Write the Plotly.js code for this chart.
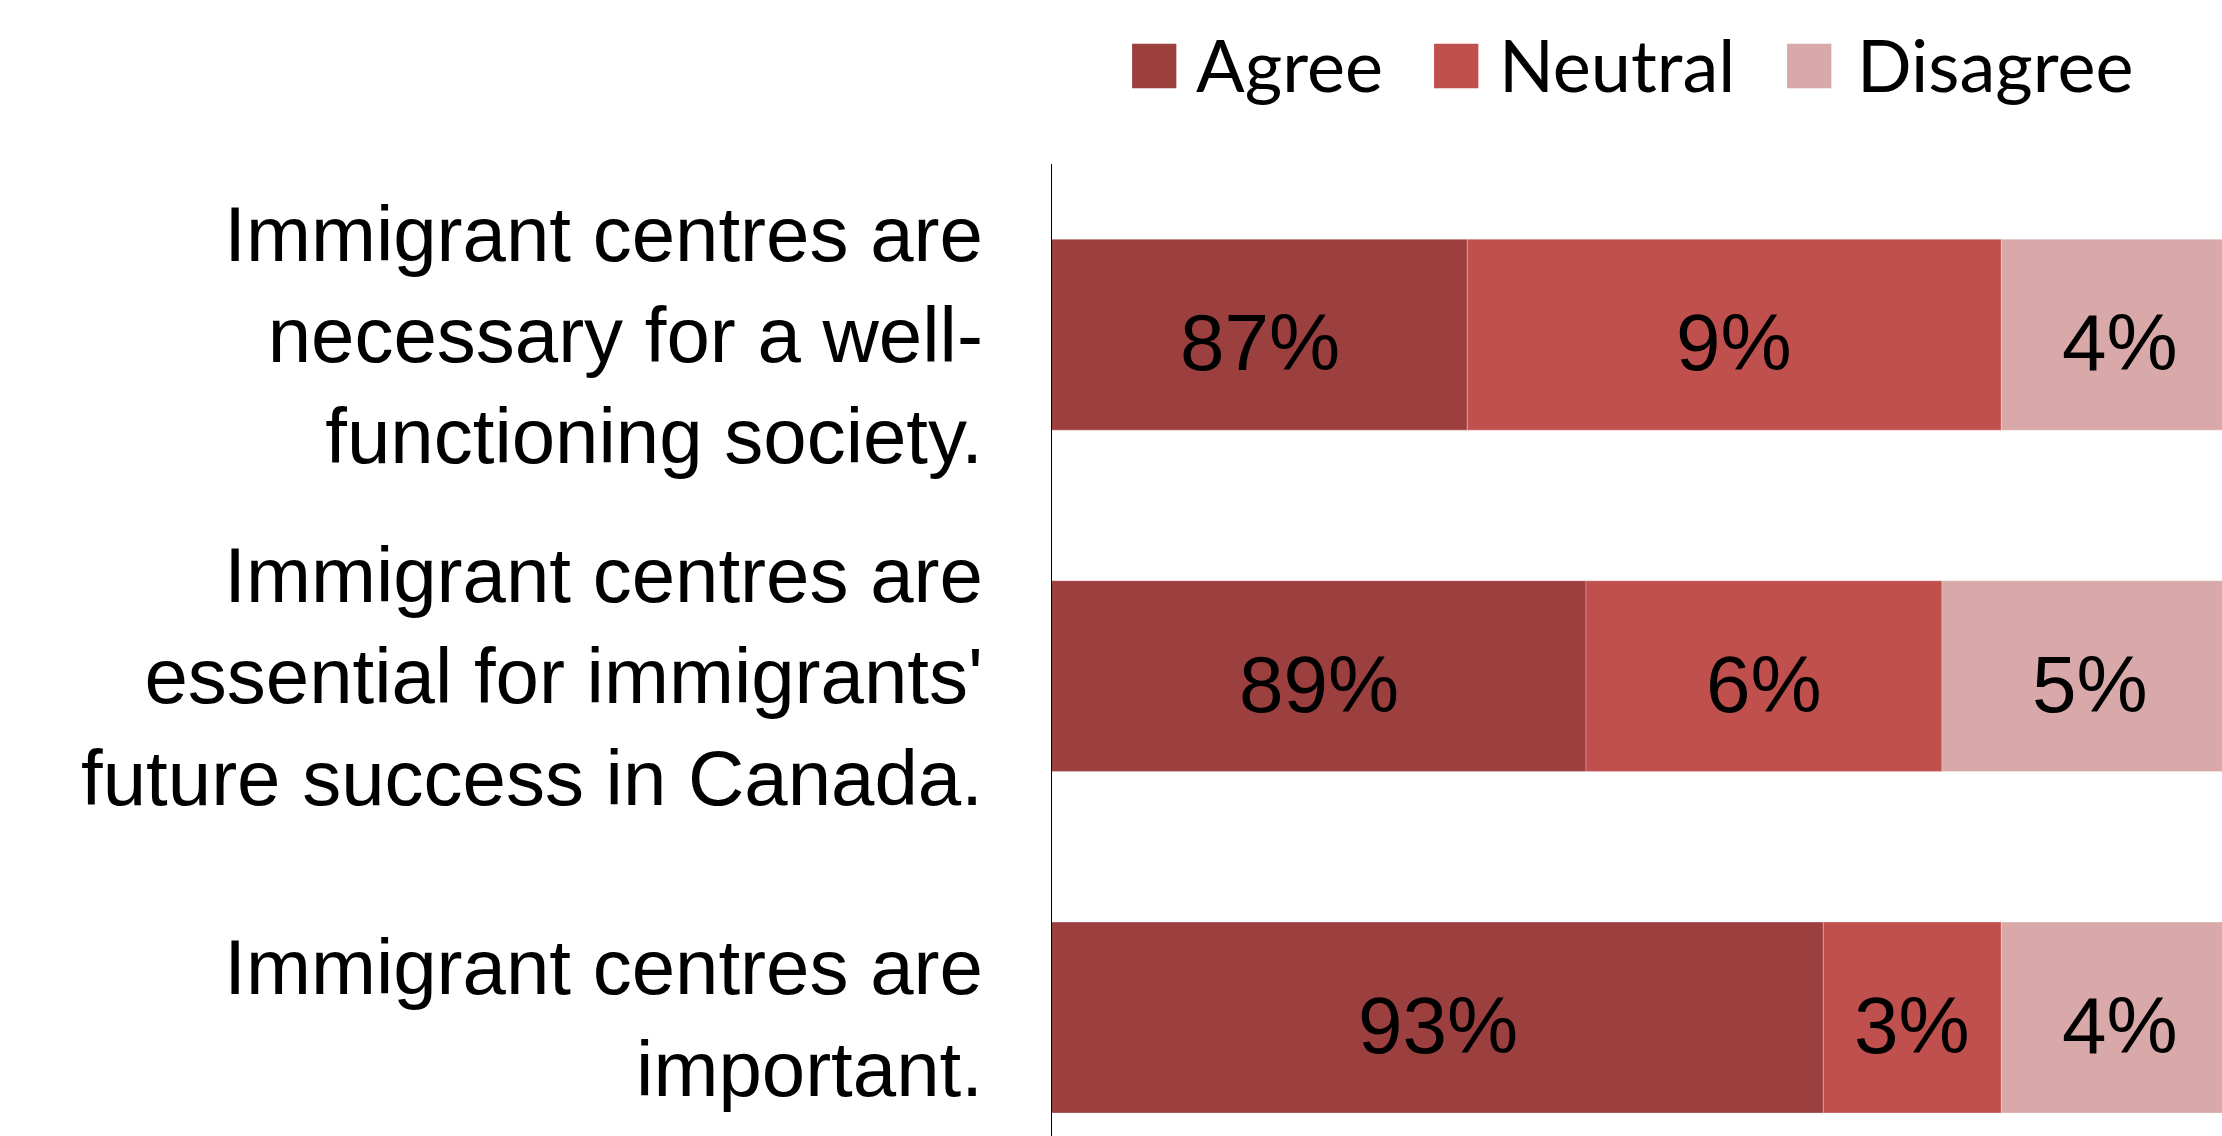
<!DOCTYPE html>
<html>
<head>
<meta charset="utf-8">
<script src="https://cdn.plot.ly/plotly-3.0.1.min.js"></script>
<style>
  html, body { margin: 0; padding: 0; background: #ffffff; }
  #chart { width: 2222px; height: 1136px; }
</style>
</head>
<body>
<div id="chart"></div>
<script>
// ---- data ----
const categories = [
  "Immigrant centres are<br>necessary for a well-<br>functioning society.",
  "Immigrant centres are<br>essential for immigrants'<br>future success in Canada.",
  "Immigrant centres are<br>important."
];
const agree = [87, 89, 93];
const neutral = [9, 6, 3];
const disagree = [4, 5, 4];
const seriesNames = ["Agree", "Neutral", "Disagree"];
const seriesColors = ["#9C403F", "#C0504D", "#D9A9A9"];

// ---- layout constants ----
const xRange = [80, 99.72];
const series = [agree, neutral, disagree];

const traces = [];
const annotations = [];
const bases = categories.map(() => 0);
series.forEach((vals, si) => {
  const base = bases.slice();
  traces.push({
    type: "bar",
    orientation: "h",
    name: seriesNames[si],
    y: categories,
    x: vals,
    base: base,
    marker: { color: seriesColors[si], line: { width: 1, color: "rgba(255,255,255,0.25)" } },
    hoverinfo: "none",
    showlegend: false
  });
  vals.forEach((v, i) => {
    const s = Math.max(base[i], xRange[0]);
    const e = base[i] + v;
    annotations.push({
      xref: "x", yref: "y",
      x: (s + e) / 2,
      y: categories[i],
      text: v + "%",
      showarrow: false,
      xanchor: "center", yanchor: "middle",
      yshift: -8,
      font: { family: "Liberation Sans, Arial, sans-serif", size: 80, color: "#000000" }
    });
    bases[i] = base[i] + v;
  });
});

// legend (drawn as annotations so the swatches can be large)
const legendSquareX = [0.0624, 0.3205, 0.6220];
const legendTextX = [0.1213, 0.3800, 0.6860];
seriesNames.forEach((n, i) => {
  annotations.push({
    xref: "paper", yref: "paper",
    x: legendSquareX[i], y: 1.106,
    xanchor: "left", yanchor: "middle",
    showarrow: false,
    text: "■",
    font: { family: "DejaVu Sans", size: 58, color: seriesColors[i] }
  });
  annotations.push({
    xref: "paper", yref: "paper",
    x: legendTextX[i], y: 1.103,
    xanchor: "left", yanchor: "middle",
    showarrow: false,
    text: n,
    font: { family: "Lato, Carlito, sans-serif", size: 72, color: "#000000" }
  });
});

const layout = {
  width: 2222,
  height: 1136,
  margin: { l: 1052, r: 0, t: 164, b: 0, pad: 0 },
  paper_bgcolor: "#ffffff",
  plot_bgcolor: "#ffffff",
  barmode: "overlay",
  bargap: 0.441,
  showlegend: false,
  xaxis: {
    range: xRange,
    showgrid: false,
    zeroline: false,
    showticklabels: false,
    showline: false,
    ticks: ""
  },
  yaxis: {
    type: "category",
    categoryorder: "array",
    categoryarray: categories,
    range: [2.347, -0.5],
    showgrid: false,
    zeroline: false,
    showline: true,
    linecolor: "#000000",
    linewidth: 1.5,
    ticks: "",
    ticklabelstandoff: 52,
    tickfont: { family: "Liberation Sans, Arial, sans-serif", size: 78, color: "#000000" }
  },
  annotations: annotations
};

Plotly.newPlot("chart", traces, layout, { displayModeBar: false, staticPlot: true });
</script>
</body>
</html>
